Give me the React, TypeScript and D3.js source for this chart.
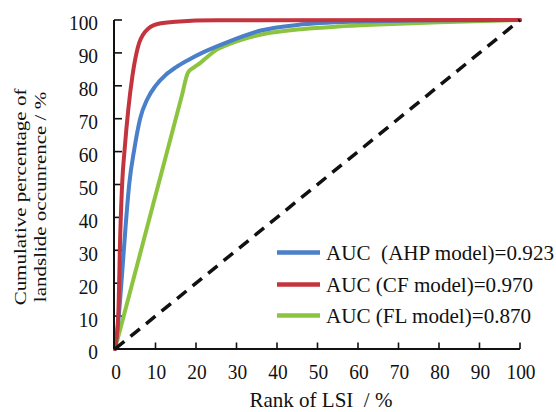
import React from "react";
import * as d3 from "d3";

const xTicks = [0, 10, 20, 30, 40, 50, 60, 70, 80, 90, 100];
const yTicks = [0, 10, 20, 30, 40, 50, 60, 70, 80, 90, 100];

const ahpX = [0, 0.7, 1.7, 2.6, 3.5, 4.8, 6.2, 8, 10, 12.5, 15, 18, 22, 27, 36, 45, 60, 80, 100];
const ahpY = [0, 7, 22, 37, 50, 61, 70, 76, 80, 83.3, 85.6, 87.8, 90.3, 92.9, 96.8, 98.5, 99.5, 99.9, 100];

const cfX = [0, 0.8, 1.3, 1.8, 2.4, 3.3, 4.3, 5.6, 7.5, 10.5, 15, 25, 100];
const cfY = [0, 10, 35, 51, 61, 73, 83, 91.5, 96.5, 98.8, 99.5, 99.9, 100];

const flX = [0, 9, 16.5, 18, 19.5, 21, 23, 25, 28, 31, 37, 45, 55, 65, 80, 100];
const flY = [0, 42, 77, 84, 85.6, 86.9, 89, 90.9, 92.6, 93.9, 95.8, 97.1, 98, 98.6, 99.3, 100];

const legendLabels = [
  "AUC  (AHP model)=0.923",
  "AUC (CF model)=0.970",
  "AUC (FL model)=0.870",
];

const BLUE = "#4a7fc9";
const RED = "#c4343e";
const GREEN = "#8dc43f";
const FONT = '"Liberation Serif", "Times New Roman", "DejaVu Serif", serif';

export default function App() {
  const W = 556, H = 412;
  const x = d3.scaleLinear().domain([0, 100]).range([115, 520]);
  const y = d3.scaleLinear().domain([0, 100]).range([349, 20]);
  const line = d3
    .line<[number, number]>()
    .x((d) => x(d[0]))
    .y((d) => y(d[1]))
    .curve(d3.curveMonotoneX);
  const zip = (a: number[], b: number[]) => a.map((v, i) => [v, b[i]] as [number, number]);
  const series = [
    { pts: zip(flX, flY), color: GREEN },
    { pts: zip(ahpX, ahpY), color: BLUE },
    { pts: zip(cfX, cfY), color: RED },
  ];
  const legend = [
    { label: legendLabels[0], color: BLUE, ly: 252.5, ty: 260 },
    { label: legendLabels[1], color: RED, ly: 284.5, ty: 291.7 },
    { label: legendLabels[2], color: GREEN, ly: 315.5, ty: 322.7 },
  ];
  const ts = { fontFamily: FONT, whiteSpace: "pre" as const };
  const axisX = 114;
  return (
    <svg
      width={W}
      height={H}
      style={{ position: "fixed", left: 0, top: 0, background: "#ffffff" }}
    >
      <rect width={W} height={H} fill="#ffffff" />
      {yTicks.map((t) => (
        <g key={"y" + t}>
          <line x1={axisX} x2={axisX + 8} y1={y(t)} y2={y(t)} stroke="#111" strokeWidth={1.6} />
          <text
            transform={`translate(98,${y(t) + 3}) scale(0.88,1)`}
            textAnchor="end"
            dominantBaseline="central"
            fontSize={22}
            fill="#111"
            style={ts}
          >
            {t}
          </text>
        </g>
      ))}
      {xTicks.map((t) => (
        <g key={"x" + t}>
          <line x1={x(t)} x2={x(t)} y1={349} y2={342.5} stroke="#111" strokeWidth={1.6} />
          <text
            transform={`translate(${x(t) + 1},379) scale(0.88,1)`}
            textAnchor="middle"
            fontSize={22}
            fill="#111"
            style={ts}
          >
            {t}
          </text>
        </g>
      ))}
      {series.map((s, i) => (
        <path
          key={i}
          d={line(s.pts) || ""}
          fill="none"
          stroke={s.color}
          strokeWidth={4}
          strokeLinejoin="round"
          strokeLinecap="round"
        />
      ))}
      <line
        x1={x(0)}
        y1={y(0)}
        x2={x(100)}
        y2={y(100)}
        stroke="#111"
        strokeWidth={3.5}
        strokeDasharray="12 8"
      />
      <line x1={axisX} x2={axisX} y1={y(100)} y2={349} stroke="#111" strokeWidth={2} />
      <line x1={axisX} x2={x(100)} y1={349} y2={349} stroke="#111" strokeWidth={2} />
      {legend.map((l, i) => (
        <g key={"l" + i}>
          <line x1={277} x2={320} y1={l.ly} y2={l.ly} stroke={l.color} strokeWidth={4.5} />
          <text
            transform={`translate(326,${l.ty}) scale(0.96,1)`}
            fontSize={22}
            fill="#111"
            style={ts}
          >
            {l.label}
          </text>
        </g>
      ))}
      <text x={321} y={407} textAnchor="middle" fontSize={21} fill="#111" style={ts}>
        {"Rank of LSI  / %"}
      </text>
      <text
        transform="translate(26,197) scale(0.8,1) rotate(-90)"
        textAnchor="middle"
        fontSize={21}
        fill="#111"
        style={ts}
      >
        Cumulative percentage of
      </text>
      <text
        transform="translate(45.5,197) scale(0.8,1) rotate(-90)"
        textAnchor="middle"
        fontSize={21}
        fill="#111"
        style={ts}
      >
        landslide occunrence / %
      </text>
    </svg>
  );
}
